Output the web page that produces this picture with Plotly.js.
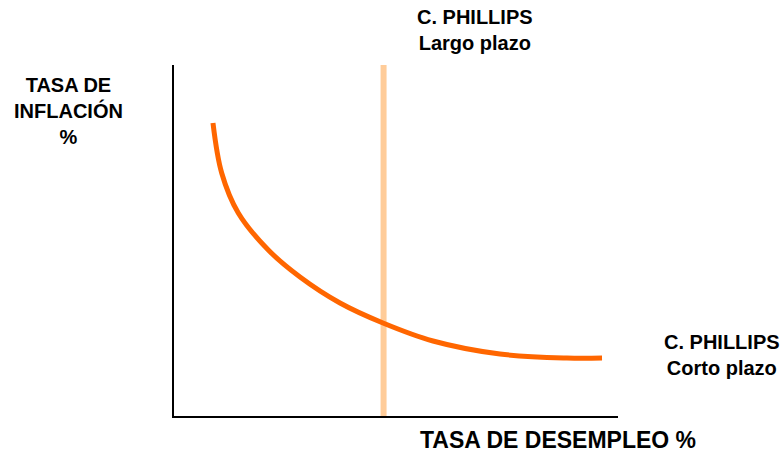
<!DOCTYPE html>
<html><head><meta charset="utf-8">
<script src="https://cdn.plot.ly/plotly-3.0.1.min.js"></script>
<style>body{margin:0;background:#fff}#c{width:784px;height:454px}</style>
</head><body><div id="c"></div>
<script>
// Short-run Phillips curve (schematic units 0-100)
const curveX = [8.78, 10.74, 14.48, 21.24, 28.38, 37.39, 47.07, 58.33, 73.42, 88.51, 96.40];
const curveY = [83.48, 69.23, 57.83, 47.29, 39.60, 32.19, 26.50, 21.37, 17.66, 16.52, 16.52];
// Long-run Phillips curve (vertical)
const longX = [47.2, 47.2];
const longY = [0, 100];

const F = 'Liberation Sans, Arial, sans-serif';
const traces = [
  {x: longX, y: longY, mode: 'lines', line: {color: '#FFCC99', width: 6}, hoverinfo: 'skip'},
  {x: curveX, y: curveY, mode: 'lines', line: {color: '#FF6600', width: 5, shape: 'spline', smoothing: 1}, hoverinfo: 'skip'}
];
const ann = (text, x, y, size) => ({text, x, y, xref: 'paper', yref: 'paper', showarrow: false,
  font: {family: F, size: size, color: '#000'}, xanchor: 'center', yanchor: 'middle'});
const layout = {
  width: 784, height: 454, showlegend: false,
  paper_bgcolor: '#fff', plot_bgcolor: '#fff',
  margin: {l: 174, r: 166, t: 65, b: 38},
  xaxis: {range: [0, 100], showgrid: false, zeroline: false, showticklabels: false, ticks: '',
    showline: true, linecolor: '#000', linewidth: 2, fixedrange: true},
  yaxis: {range: [0, 100], showgrid: false, zeroline: false, showticklabels: false, ticks: '',
    showline: true, linecolor: '#000', linewidth: 2, fixedrange: true},
  annotations: [
    ann('<b>TASA DE<br>INFLACIÓN<br>%</b>', -0.2387, 0.869, 20),
    ann('<b>C. PHILLIPS<br>Largo plazo</b>', 0.678, 1.0997, 20),
    ann('<b>C. PHILLIPS<br>Corto plazo</b>', 1.234, 0.174, 20),
    ann('<b>TASA DE DESEMPLEO %</b>', 0.865, -0.068, 23)
  ]
};
Plotly.newPlot('c', traces, layout, {displayModeBar: false, staticPlot: true});
</script></body></html>
